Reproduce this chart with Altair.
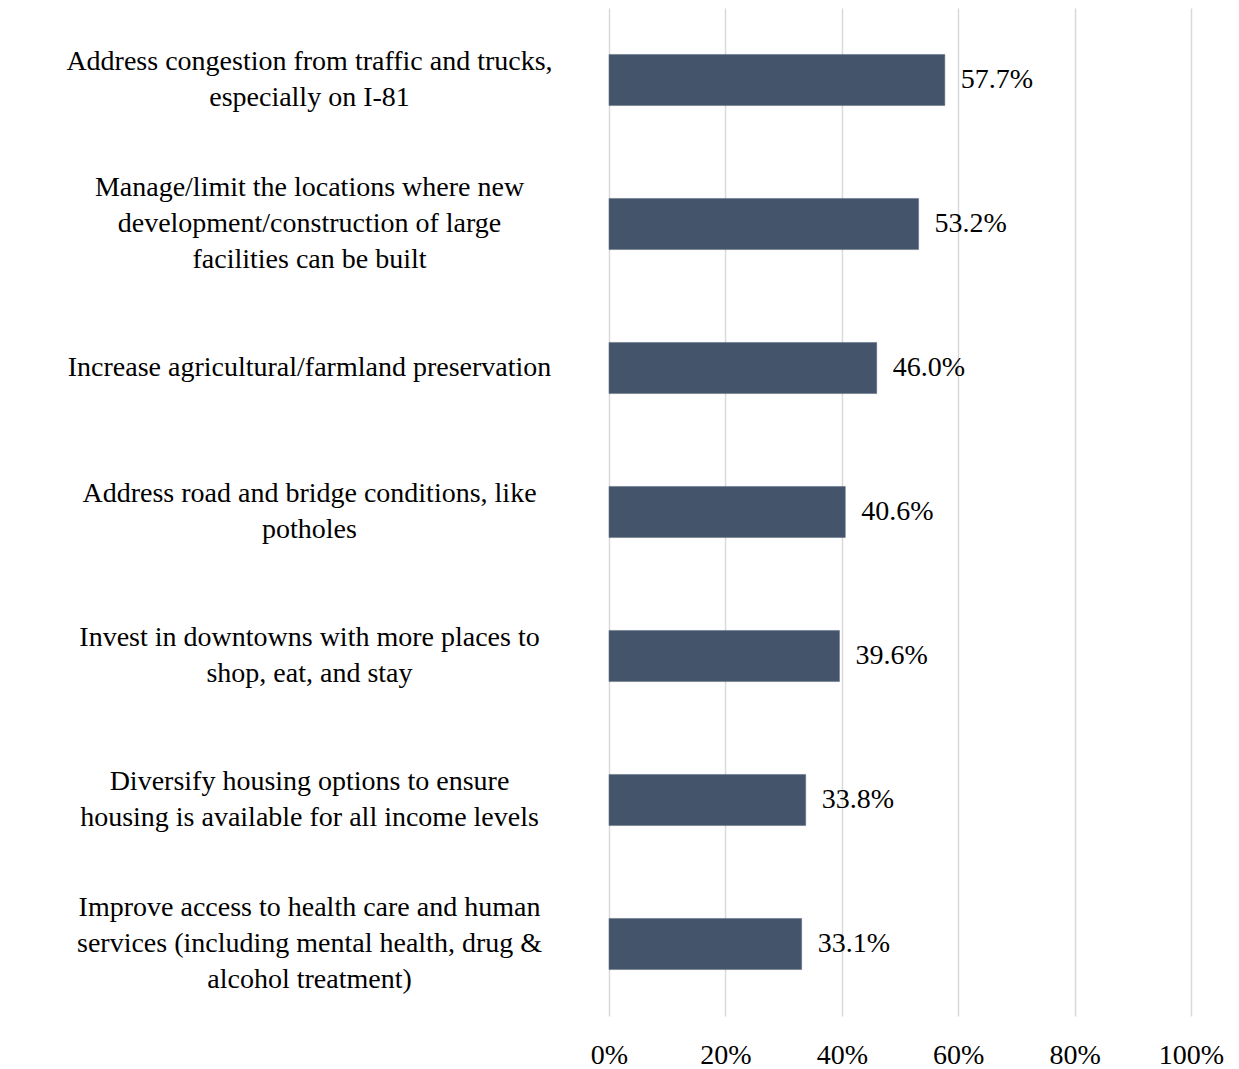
import altair as alt
import pandas as pd

categories = [
    "Address congestion from traffic and trucks,|especially on I-81",
    "Manage/limit the locations where new|development/construction of large|facilities can be built",
    "Increase agricultural/farmland preservation",
    "Address road and bridge conditions, like|potholes",
    "Invest in downtowns with more places to|shop, eat, and stay",
    "Diversify housing options to ensure|housing is available for all income levels",
    "Improve access to health care and human|services (including mental health, drug &|alcohol treatment)",
]
values = [0.577, 0.532, 0.460, 0.406, 0.396, 0.338, 0.331]
x_ticks = [0, 0.2, 0.4, 0.6, 0.8, 1.0]

df = pd.DataFrame({"category": categories, "value": values})

FONT = "Liberation Serif"
FS = 28
LH = 36

y_enc = alt.Y(
    "category:N",
    sort=None,
    scale=alt.Scale(paddingInner=0.645),
    axis=alt.Axis(
        title=None,
        ticks=False,
        domain=False,
        labelAlign="center",
        labelBaseline="middle",
        labelPadding=300,
        labelLimit=0,
        labelFont=FONT,
        labelFontSize=FS,
        labelColor="#000000",
        labelLineHeight=LH,
        labelExpr="split(datum.label, '|')",
        labelOffset={
            "condition": [
                {"test": "length(split(datum.label, '|')) == 3", "value": -LH},
                {"test": "length(split(datum.label, '|')) == 2", "value": -LH / 2},
            ],
            "value": 0,
        },
    ),
)

x_enc = alt.X(
    "value:Q",
    scale=alt.Scale(domain=[0, 1]),
    axis=alt.Axis(
        title=None,
        values=x_ticks,
        format=".0%",
        ticks=False,
        domain=False,
        grid=True,
        gridColor="#d9d9d9",
        gridWidth=1.5,
        labelFont=FONT,
        labelFontSize=FS,
        labelColor="#000000",
        labelPadding=25,
        labelFlush=False,
    ),
)

bars = alt.Chart(df).mark_bar(color="#44546A", stroke="#5a6a80", strokeWidth=0.5).encode(
    x=x_enc, y=y_enc
)

text = alt.Chart(df).mark_text(
    align="left", baseline="middle", dx=16, font=FONT, fontSize=FS, color="#000000"
).encode(
    x=alt.X("value:Q"),
    y=alt.Y("category:N", sort=None),
    text=alt.Text("value:Q", format=".1%"),
)

chart = (
    alt.layer(bars, text)
    .properties(
        width=582,
        height=1008,
        autosize=alt.AutoSizeParams(type="none"),
        padding={"left": 601, "top": 0, "right": 40, "bottom": 60},
    )
    .configure_view(strokeWidth=0)
)

chart.save("out.html", embed_options={"renderer": "svg", "actions": False})
